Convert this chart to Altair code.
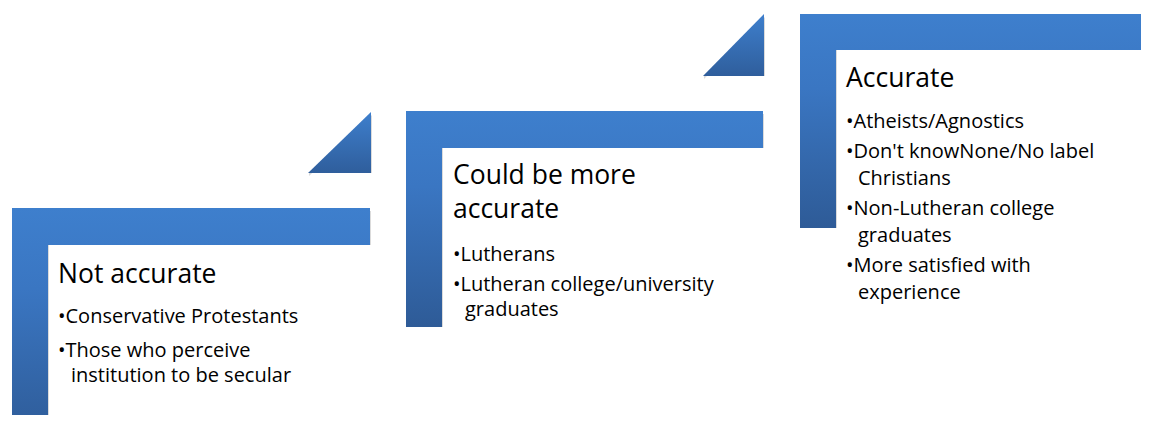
import altair as alt
import pandas as pd

# ---- step shapes (image pixel space) ----
step_id = ["Not accurate", "Could be more accurate", "Accurate"]
step_left = [12, 406, 800]
step_top = [208, 111, 14]
bar_bottom = [245, 148, 50]
col_right = [48, 442, 836]
step_right = [370, 763, 1170]
step_bottom = [440, 327, 228]

# ---- connector triangles ----
tri_id = ["t1", "t2"]
tri_left = [308, 703]
tri_right = [371, 764]
tri_top = [112, 14]
tri_bottom = [173, 76]

# ---- texts (x = left edge, y = baseline) ----
titles = ["Not accurate", "Could be more", "accurate", "Accurate"]
title_x = [58, 453, 453, 846]
title_y = [283, 184, 218, 87]

bullet_lines = [
    "•Conservative Protestants", "•Those who perceive", "institution to be secular",
    "•Lutherans", "•Lutheran college/university", "graduates",
    "•Atheists/Agnostics", "•Don't knowNone/No label", "Christians",
    "•Non-Lutheran college", "graduates", "•More satisfied with", "experience",
]
bullet_x = [58, 58, 71, 453, 453, 465, 846, 846, 858, 846, 858, 846, 858]
bullet_y = [323, 357, 382, 261, 291, 316, 128, 158, 185, 215, 242, 272, 299]

rows = []
for i, s in enumerate(step_id):
    rows.append(dict(shape=s, x=step_left[i], y=step_top[i], y2=step_bottom[i]))
    rows.append(dict(shape=s, x=col_right[i], y=step_top[i], y2=bar_bottom[i]))
    rows.append(dict(shape=s, x=step_right[i], y=step_top[i], y2=bar_bottom[i]))
steps = pd.DataFrame(rows)

trows = []
for i, t in enumerate(tri_id):
    trows.append(dict(shape=t, x=tri_left[i], y=tri_bottom[i], y2=tri_bottom[i]))
    trows.append(dict(shape=t, x=tri_right[i], y=tri_top[i], y2=tri_bottom[i]))
tris = pd.DataFrame(trows)

title_df = pd.DataFrame(dict(text=titles, x=title_x, y=title_y))
bullet_df = pd.DataFrame(dict(text=bullet_lines, x=bullet_x, y=bullet_y))

W, H = 1133, 407
xs = alt.Scale(domain=[8, 8 + W], nice=False, zero=False)
ys = alt.Scale(domain=[8, 8 + H], nice=False, zero=False, reverse=True)
X = lambda f: alt.X(f, type="quantitative", scale=xs, axis=None)
Y = lambda f: alt.Y(f, type="quantitative", scale=ys, axis=None)

grad = alt.Gradient(
    gradient="linear",
    stops=[alt.GradientStop(color="#3e7fcd", offset=0),
           alt.GradientStop(color="#3a76c2", offset=0.35),
           alt.GradientStop(color="#2e5b97", offset=1)],
    x1=0, x2=0, y1=0, y2=1,
)
tgrad = alt.Gradient(
    gradient="linear",
    stops=[alt.GradientStop(color="#3e7fcd", offset=0),
           alt.GradientStop(color="#2f5e9c", offset=1)],
    x1=0, x2=0, y1=0, y2=1,
)

shadow = alt.Chart(steps).mark_area(
    interpolate="step-after", color="#000000", opacity=0.14, xOffset=1, yOffset=3, clip=True
).encode(x=X("x"), y=Y("y"), y2="y2", detail="shape:N")
step_mark = alt.Chart(steps).mark_area(
    interpolate="step-after", color=grad, clip=True
).encode(x=X("x"), y=Y("y"), y2="y2", detail="shape:N")

tshadow = alt.Chart(tris).mark_area(
    color="#000000", opacity=0.14, xOffset=1, yOffset=3, clip=True
).encode(x=X("x"), y=Y("y"), y2="y2", detail="shape:N")
tri_mark = alt.Chart(tris).mark_area(color=tgrad, clip=True).encode(
    x=X("x"), y=Y("y"), y2="y2", detail="shape:N")

title_mark = alt.Chart(title_df).mark_text(
    align="left", baseline="alphabetic", font="Open Sans", fontSize=26.5, color="#000000"
).encode(x=X("x"), y=Y("y"), text="text:N")
bullet_mark = alt.Chart(bullet_df).mark_text(
    align="left", baseline="alphabetic", font="Open Sans", fontSize=20, color="#000000"
).encode(x=X("x"), y=Y("y"), text="text:N")

chart = alt.layer(shadow, step_mark, tshadow, tri_mark, title_mark, bullet_mark).properties(
    width=W, height=H, padding=0, background="white"
).configure_view(stroke=None)

chart.save("out.html", embed_options={"renderer": "svg", "actions": False})
